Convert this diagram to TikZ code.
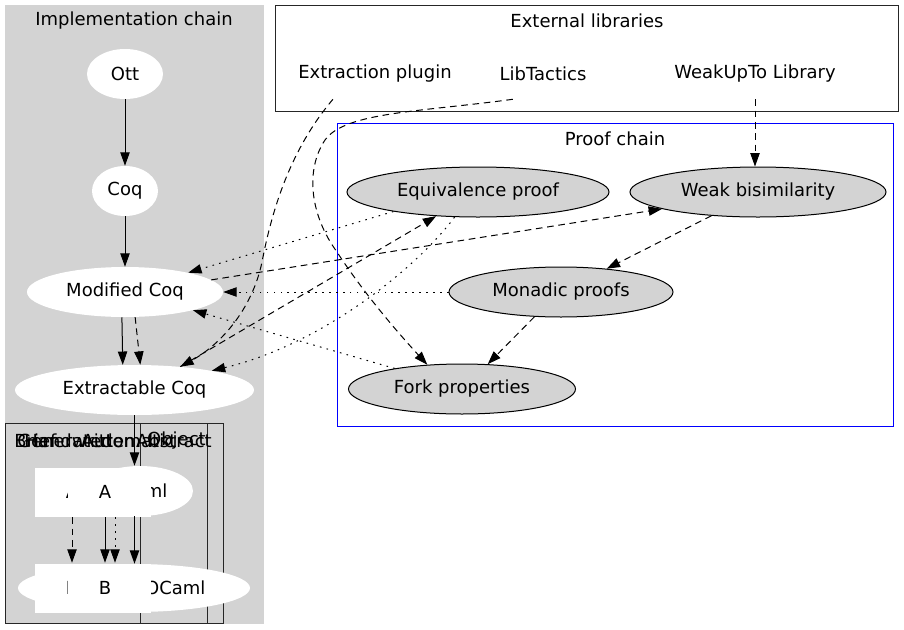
\documentclass[tikz,border=0pt]{standalone}
\usepackage{fontspec}
\setmainfont{DejaVu Sans}
\usetikzlibrary{shapes.geometric,arrows.meta}
\definecolor{lgray}{HTML}{D3D3D3}
\begin{document}
\begin{tikzpicture}[x=0.75pt,y=-0.75pt,
  font=\fontsize{13.5}{16}\selectfont,
  ell/.style={ellipse, inner sep=0pt, fill=white},
  pell/.style={ellipse, inner sep=0pt, draw=black, line width=0.75pt, fill=lgray, minimum height=37.5pt},
  txt/.style={inner sep=0pt, minimum height=37.5pt},
  lbl/.style={inner sep=0pt},
  arr/.style={line width=0.75pt, -{Triangle[length=10pt,width=7pt]}},
  dsh/.style={dash pattern=on 5pt off 3.5pt},
  dtt/.style={dash pattern=on 1.2pt off 4pt},
  frame/.style={draw=black!85, line width=0.75pt}]
\useasboundingbox (0,0) rectangle (904,629);
\fill[white] (0,0) rectangle (904,629);

% clusters
\fill[lgray] (5,5) rectangle (264,624);
\node[lbl] (implab) at (134,21) {Implementation chain};
\draw[frame] (275,5) rectangle (898,111);
\node[lbl] (extlab) at (587,21) {External libraries};
\draw[blue, line width=0.75pt] (337,123) rectangle (893,426);
\node[lbl] (prflab) at (615,139) {Proof chain};

% implementation chain
\node[ell, minimum width=57pt, minimum height=37.5pt] (ott) at (125,74) {Ott};
\node[ell, minimum width=49.5pt, minimum height=37.5pt] (coq) at (125,191) {Coq};
\node[ell, minimum width=147pt, minimum height=37.5pt] (mcoq) at (125,292) {Modified Coq};
\node[ell, minimum width=179.25pt, minimum height=37.5pt] (ecoq) at (134.5,390) {Extractable Coq};

% external libraries
\node[txt, minimum width=116pt] (extplug) at (375,74) {Extraction plugin};
\node[txt] (libt) at (543,74) {LibTactics};
\node[txt] (weakupto) at (755,74) {WeakUpTo Library};

% proof chain
\node[pell, minimum width=196.5pt] (equiv) at (478,192) {Equivalence proof};
\node[pell, minimum width=192pt] (weak) at (758,192) {Weak bisimilarity};
\node[pell, minimum width=168pt] (monad) at (561,292) {Monadic proofs};
\node[pell, minimum width=170.25pt] (fork) at (462,389) {Fork properties};

% legend (overlapping clusters)
\draw[frame] (5,423) rectangle (207,623);
\draw[frame] (140,423) rectangle (223,623);
\node[lbl, anchor=west] (lg1) at (14,441) {Brief};
\node[lbl, anchor=west] (lg2) at (17,441) {Generated};
\node[lbl] (lg3) at (80,441) {Handwritten};
\node[lbl] (lg4) at (128,441) {Automatic};
\node[lbl, anchor=east] (lg5) at (206,441) {Object};
\node[lbl, anchor=east] (lg6) at (212,441) {Abstract};
\node[ell, minimum width=79.5pt, minimum height=37.5pt] (oc1) at (140,491) {OCaml\hspace*{4pt}};
\node[ell, minimum width=174pt, minimum height=36pt] (oc2) at (134,588) {Extracted OCaml\hspace*{7.5pt}};
\fill[white] (35,468) rectangle (109,517);
\node[txt] (a1) at (72,492) {A};
\fill[white] (68,468) rectangle (151,517);
\node[txt] (a2) at (105,492) {A};
\fill[white] (35,564) rectangle (109,613);
\node[txt] (b1) at (72,588) {B};
\fill[white] (68,564) rectangle (151,613);
\node[txt] (b2) at (105,588) {B};

% implementation edges
\draw[arr] (ott) -- (coq);
\draw[arr] (coq) -- (mcoq);
\draw[arr] (mcoq.263) -- (ecoq.115);
\draw[arr, dsh] (mcoq.-68) -- (ecoq.77);
\draw[arr] (ecoq.south) -- (ecoq.south |- oc1.north);
\draw[arr] (ecoq.south |- oc1.south) -- (ecoq.south |- oc2.north);

% legend edges
\draw[arr, dsh] (a1) -- (b1);
\draw[arr] (a2) -- (b2);
\draw[arr, dtt] ([xshift=7.5pt]a2.south) -- ([xshift=7.5pt]b2.north);

% library edges
\draw[arr, dsh] (extplug.211) .. controls (290,150) and (272,210) .. (262,262)
  .. controls (252,310) and (220,345) .. (ecoq.27);
\draw[arr, dsh] (libt.220) .. controls (420,112) and (345,112) .. (325,140)
  .. controls (305,170) and (310,215) .. (337,252)
  .. controls (365,295) and (400,335) .. (fork.145);
\draw[arr, dsh] (weakupto.south) -- (weakupto.south |- weak.north);

% proof chain edges
\draw[arr, dsh] (ecoq.27) -- (equiv.210);
\draw[arr, dtt] (equiv.227) .. controls (415,270) and (320,345) .. (ecoq.14);
\draw[arr, dtt] (equiv.193) -- (mcoq.17);
\draw[arr, dsh] (mcoq.8) -- (weak.190);
\draw[arr, dtt] (monad.west) -- (mcoq.east);
\draw[arr, dtt] (fork.163) -- (mcoq.-15);
\draw[arr, dsh] (weak.207) -- (monad.27);
\draw[arr, dsh] (monad.223) -- (fork.44);
\end{tikzpicture}
\end{document}
